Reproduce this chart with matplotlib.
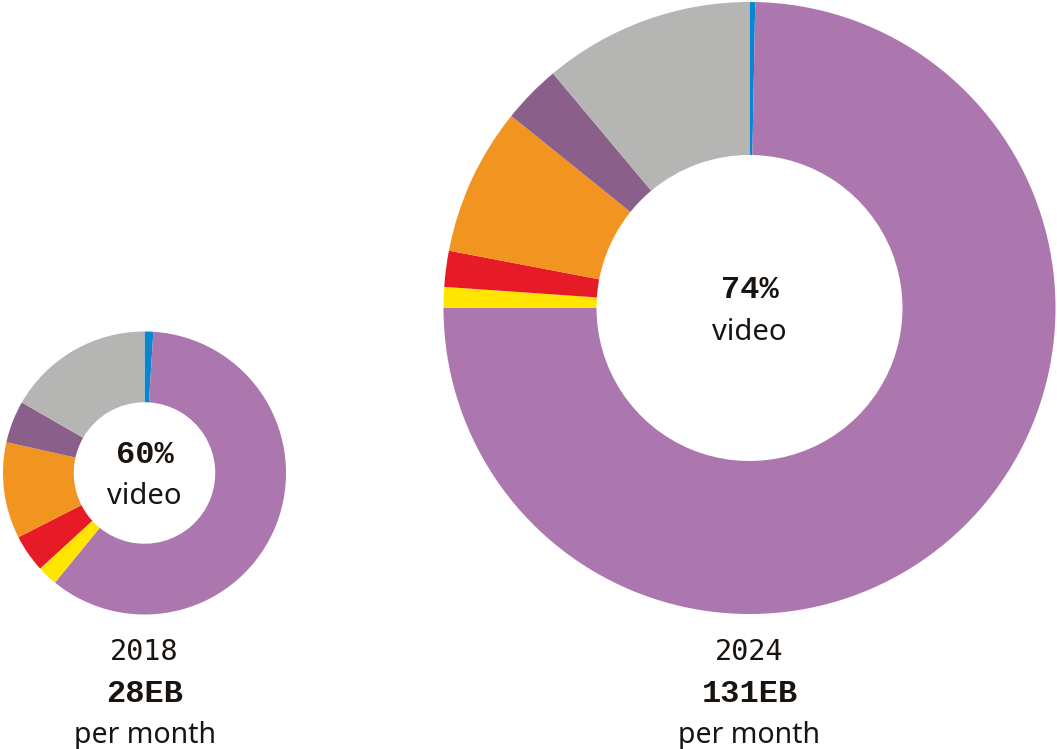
import matplotlib.pyplot as plt

# shares of monthly traffic, clockwise from 12 o'clock
categories = ["other", "video", "yellow", "red", "orange", "dark purple", "grey"]
colors = ["#0a86d0", "#ac76af", "#ffe500", "#e71b28", "#f29420", "#8a5f89", "#b5b5b4"]
share_2018 = [1.0, 59.9, 2.3, 4.3, 11.0, 4.8, 16.7]
share_2024 = [0.3, 74.7, 1.1, 1.9, 7.8, 3.1, 11.1]
years = ["2018", "2024"]
totals = ["28EB", "131EB"]
video_pct = ["60%", "74%"]

W, H = 1057, 749
fig = plt.figure(figsize=(W / 100, H / 100), dpi=100)
ax = fig.add_axes([0, 0, 1, 1])

mono = "DejaVu Sans Mono"
mono_bold = "Liberation Mono"
sans = "Noto Sans"
ink = "#1a1410"

# (centre x, centre y in px from top, outer radius px)
donuts = [(144.5, 473, 141.5), (749.5, 308, 306)]

for (cx, cy, r), shares, yr, tot, pct in zip(donuts, [share_2018, share_2024],
                                            years, totals, video_pct):
    y = H - cy
    ax.pie(shares, colors=colors, startangle=90, counterclock=False,
           center=(cx, y), radius=r,
           wedgeprops=dict(width=r * 0.5, linewidth=0))
    ax.text(cx, y + 18, pct, ha="center", va="center", fontsize=23,
            fontweight="bold", family=mono_bold, color=ink)
    ax.text(cx, y - 24, "video", ha="center", va="center", fontsize=21,
            family=sans, color=ink)
    ax.text(cx, H - 652, yr, ha="center", va="center", fontsize=20.5,
            family=mono, color=ink)
    ax.text(cx, H - 694, tot, ha="center", va="center", fontsize=23,
            fontweight="bold", family=mono_bold, color=ink)
    ax.text(cx, H - 735, "per month", ha="center", va="center", fontsize=20.5,
            family=sans, color=ink)

ax.set_xlim(0, W)
ax.set_ylim(0, H)
ax.set_aspect("equal")
ax.axis("off")

fig.savefig("out.png", dpi=100)
